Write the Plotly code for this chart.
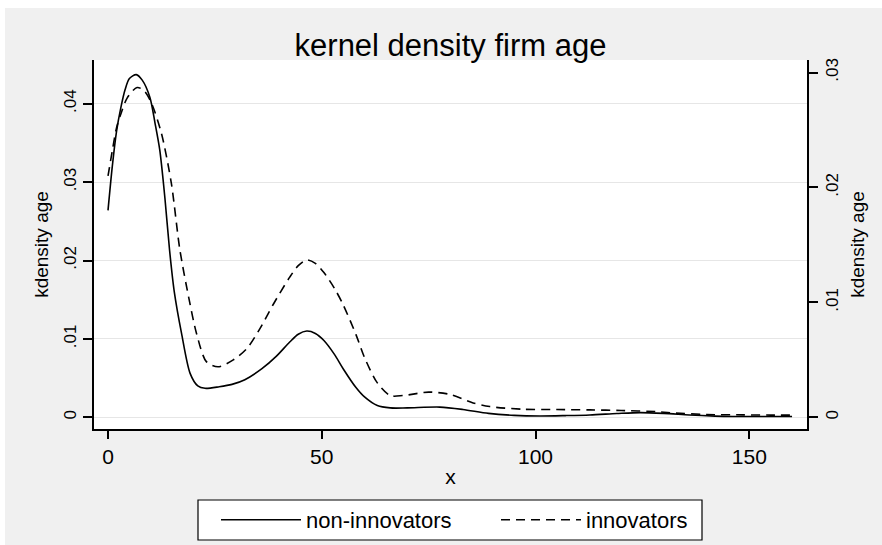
import plotly.graph_objects as go

# ---- data ----
age_non = [0, 1, 2, 3, 4, 5, 6.6, 8, 9.8, 11, 12.1, 13.3, 14.4, 15.5, 17.2, 19.2, 21, 22.7,
           26, 29, 32, 36, 39.4, 42.5, 44.5, 46.5, 48.5, 50.5, 53, 55, 58, 60, 63, 66, 70,
           77.6, 83, 89, 95, 101, 107, 112.7, 119, 124.5, 130, 136, 142, 146, 153, 160]
dens_non = [0.0264, 0.0320, 0.0365, 0.0395, 0.0418, 0.0432, 0.0437, 0.0430, 0.0408, 0.0375,
            0.0341, 0.0280, 0.0213, 0.0160, 0.0107, 0.0056, 0.0040, 0.0037, 0.0039, 0.0042,
            0.0048, 0.0062, 0.0078, 0.0096, 0.0106, 0.0110, 0.0107, 0.0098, 0.0080, 0.0062,
            0.0038, 0.0026, 0.0015, 0.0012, 0.0012, 0.0013, 0.0010, 0.0005, 0.00025, 0.00017,
            0.00022, 0.0003, 0.00048, 0.0006, 0.0005, 0.0003, 0.00015, 0.0001, 0.0001, 0.0001]

age_inn = [0, 1, 2, 3, 4.5, 6.8, 8.5, 10.2, 12.5, 14.8, 16.8, 19, 20.7, 23, 25.7, 29.3, 32.5,
           35.5, 38.6, 42.5, 44.5, 46.5, 48.5, 50.5, 53, 55, 58, 60, 63, 66, 69, 75, 80, 85.4,
           89.3, 97, 105, 112.7, 120, 128.4, 131.5, 140, 148.6, 155, 160]
dens_inn = [0.0210, 0.0232, 0.0252, 0.0264, 0.0278, 0.0287, 0.0284, 0.0273, 0.0247, 0.0204,
            0.0146, 0.0102, 0.0073, 0.00485, 0.0044, 0.0050, 0.0060, 0.0077, 0.0098, 0.0122,
            0.0132, 0.0137, 0.0134, 0.0126, 0.0112, 0.0098, 0.0072, 0.0052, 0.0030, 0.0019,
            0.0019, 0.0022, 0.0020, 0.00126, 0.00094, 0.00071, 0.00068, 0.00065, 0.0006,
            0.0005, 0.0004, 0.00025, 0.00022, 0.0002, 0.0002]

x_ticks = [0, 50, 100, 150]
x_labels = ["0", "50", "100", "150"]
yl_ticks = [0, 0.01, 0.02, 0.03, 0.04]
yl_labels = ["0", ".01", ".02", ".03", ".04"]
yr_ticks = [0, 0.01, 0.02, 0.03]
yr_labels = ["0", ".01", ".02", ".03"]

FONT = "Liberation Sans, Arial, sans-serif"
# page offset (body margin) : 5px left, 8px top
OX, OY = 5, 8
W, H = 882 - OX, 545 - OY
L, R, T, B = 89, 75, 52, 116
pw = W - L - R
ph = H - T - B

def px2x(p_screen):
    return ((p_screen - OX) - L) / pw

def py2y(p_screen):
    return (H - B - (p_screen - OY)) / ph

fig = go.Figure()
fig.add_trace(go.Scatter(x=age_non, y=dens_non, mode="lines", name="non-innovators",
                         line=dict(color="black", width=1.6, shape="spline", smoothing=0.8),
                         yaxis="y"))
fig.add_trace(go.Scatter(x=age_inn, y=dens_inn, mode="lines", name="innovators",
                         line=dict(color="black", width=1.6, dash="9px,6px", shape="spline",
                                   smoothing=0.8),
                         yaxis="y2"))

fig.update_layout(
    width=W, height=H,
    margin=dict(l=L, r=R, t=T, b=B, autoexpand=False),
    paper_bgcolor="#f0f0f0",
    plot_bgcolor="white",
    font=dict(family=FONT, color="black"),
    title=dict(text="kernel density firm age", x=0.5, xref="paper", xanchor="center",
               y=1 - (45 - OY) / H, yanchor="middle", yref="container", automargin=False,
               font=dict(size=31, family=FONT, color="black")),
    xaxis=dict(range=[-3.28, 163.5], tickvals=x_ticks, ticktext=x_labels,
               showline=True, linecolor="black", linewidth=1.5, mirror=False,
               ticks="outside", ticklen=8, tickwidth=1.5, tickcolor="black",
               showgrid=False, zeroline=False, automargin=False,
               tickfont=dict(size=21), title=dict(text="x", font=dict(size=21), standoff=2)),
    yaxis=dict(range=[-0.00149, 0.04557], tickvals=yl_ticks, ticktext=yl_labels,
               showline=True, linecolor="black", linewidth=1.5, automargin=False,
               ticks="outside", ticklen=9, tickwidth=1.5, tickcolor="black",
               showgrid=True, gridcolor="#e6e6e6", gridwidth=1, zeroline=False,
               tickangle=-90, tickfont=dict(size=17),
               title=dict(text="kdensity age", font=dict(size=19), standoff=8)),
    yaxis2=dict(range=[-0.00101, 0.03109], tickvals=yr_ticks, ticktext=yr_labels,
                overlaying="y", side="right", automargin=False,
                showline=True, linecolor="black", linewidth=1.5,
                ticks="outside", ticklen=9, tickwidth=1.5, tickcolor="black",
                showgrid=False, zeroline=False,
                tickangle=-90, tickfont=dict(size=17),
                title=dict(text="kdensity age", font=dict(size=19), standoff=10)),
    legend=dict(orientation="h", x=px2x(216), xanchor="left", y=py2y(520), yanchor="middle",
                bgcolor="rgba(0,0,0,0)", borderwidth=0,
                font=dict(size=22), itemwidth=80, entrywidth=185,
                traceorder="normal"),
    showlegend=True,
    shapes=[dict(type="rect", xref="paper", yref="paper",
                 x0=px2x(198), x1=px2x(702), y0=py2y(540), y1=py2y(500),
                 fillcolor="white", line=dict(color="black", width=1.2), layer="below")],
)

fig.write_html("out.html",
               post_script="document.body.style.margin='%dpx 0 0 %dpx';"
                           "document.body.style.background='white';" % (OY, OX))
